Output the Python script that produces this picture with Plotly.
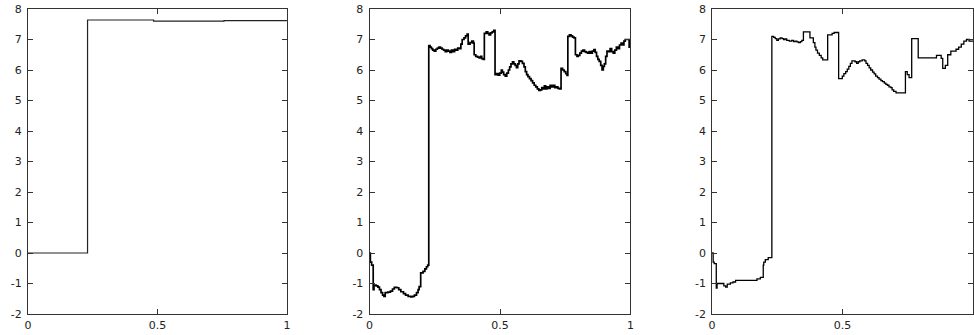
import plotly.graph_objects as go

# ---------------- data ----------------
x1 = [0.0, 0.23, 0.485, 0.757, 1.0]
y1 = [0.0, 7.64, 7.60, 7.62, 7.62]

x2 = [0.0, 0.003, 0.008, 0.014, 0.017, 0.025, 0.032, 0.038, 0.044, 0.05, 0.055, 0.06, 0.07, 0.08,
      0.088, 0.095, 0.105, 0.112, 0.12, 0.13, 0.138, 0.148, 0.158, 0.165, 0.172, 0.18, 0.186, 0.19,
      0.196, 0.205, 0.212, 0.218, 0.223,
      0.227, 0.232, 0.237, 0.242, 0.248, 0.254, 0.26, 0.266, 0.272, 0.278, 0.284, 0.29, 0.296, 0.302,
      0.308, 0.314, 0.32, 0.326, 0.332, 0.338, 0.345, 0.35, 0.355, 0.362, 0.368, 0.374, 0.378, 0.385,
      0.392, 0.398, 0.401, 0.407, 0.414, 0.42, 0.426, 0.43, 0.436, 0.44, 0.447, 0.453, 0.458, 0.464,
      0.47, 0.476, 0.481, 0.487, 0.493, 0.499, 0.505, 0.509, 0.514, 0.52, 0.526, 0.532, 0.537, 0.542,
      0.548, 0.553, 0.558, 0.563, 0.568, 0.573, 0.58, 0.586, 0.592, 0.597, 0.602, 0.607, 0.613, 0.619,
      0.625, 0.631, 0.637, 0.643, 0.649, 0.655, 0.66, 0.665, 0.67, 0.675, 0.68, 0.686, 0.692, 0.698,
      0.704, 0.71, 0.716, 0.722, 0.728, 0.734, 0.74, 0.746, 0.752, 0.757, 0.76, 0.766, 0.772, 0.778,
      0.784, 0.789, 0.795, 0.8, 0.806, 0.812, 0.818, 0.824, 0.83, 0.836, 0.842, 0.848, 0.854, 0.86,
      0.865, 0.87, 0.875, 0.88, 0.886, 0.891, 0.896, 0.9, 0.905, 0.91, 0.916, 0.922, 0.928, 0.934,
      0.94, 0.946, 0.952, 0.958, 0.964, 0.97, 0.975, 0.98, 0.995, 1.0]
y2 = [0.0, -0.3, -0.4, -1.2, -1.05, -1.08, -1.12, -1.2, -1.3, -1.38, -1.42, -1.3, -1.28, -1.25,
      -1.18, -1.13, -1.14, -1.2, -1.27, -1.33, -1.38, -1.42, -1.44, -1.42, -1.38, -1.3, -1.2, -1.1,
      -0.65, -0.6, -0.52, -0.45, -0.4,
      6.8, 6.75, 6.7, 6.65, 6.62, 6.68, 6.72, 6.75, 6.72, 6.68, 6.65, 6.6, 6.65, 6.62,
      6.58, 6.65, 6.6, 6.68, 6.65, 6.72, 6.7, 6.85, 7.0, 7.05, 7.12, 7.18, 6.85, 6.9,
      6.95, 6.88, 6.5, 6.45, 6.42, 6.4, 6.45, 6.37, 6.35, 7.2, 7.25, 7.2, 7.15, 7.22,
      7.25, 7.3, 5.85, 5.88, 5.83, 5.9, 6.0, 5.93, 5.85, 5.8, 5.9, 6.0, 6.1, 6.2,
      6.27, 6.2, 6.15, 6.08, 6.2, 6.3, 6.28, 6.22, 6.1, 5.95, 5.85, 5.78, 5.72, 5.65,
      5.58, 5.5, 5.45, 5.38, 5.33, 5.35, 5.42, 5.38, 5.48, 5.38, 5.45, 5.4, 5.5, 5.45,
      5.5, 5.42, 5.45, 5.4, 5.38, 6.05, 6.0, 5.95, 5.88, 5.82, 7.1, 7.15, 7.12, 7.08,
      7.05, 6.5, 6.45, 6.48, 6.55, 6.62, 6.65, 6.6, 6.58, 6.55, 6.6, 6.55, 6.62, 6.67,
      6.58, 6.45, 6.35, 6.28, 6.15, 6.0, 6.12, 6.2, 6.45, 6.62, 6.6, 6.7, 6.6, 6.55,
      6.65, 6.75, 6.7, 6.82, 6.88, 6.82, 6.95, 7.0, 6.75, 6.75]

x3 = [0.0, 0.004, 0.008, 0.016, 0.019, 0.045, 0.052, 0.058, 0.07, 0.08, 0.09, 0.172, 0.185,
      0.196, 0.198, 0.204, 0.215,
      0.229, 0.236, 0.242, 0.248, 0.254, 0.261, 0.268, 0.274, 0.28, 0.286, 0.296, 0.305, 0.312,
      0.318, 0.325, 0.331, 0.338, 0.344, 0.35, 0.375, 0.388, 0.394, 0.398, 0.404, 0.411, 0.418,
      0.424, 0.443, 0.455, 0.46, 0.468, 0.485, 0.499, 0.505, 0.512, 0.518, 0.524, 0.53, 0.536,
      0.548, 0.554, 0.56, 0.566, 0.575, 0.585, 0.59, 0.596, 0.602, 0.608, 0.615, 0.621, 0.627,
      0.634, 0.64, 0.647, 0.653, 0.66, 0.666, 0.672, 0.678, 0.685, 0.69, 0.696, 0.705, 0.741,
      0.748, 0.755, 0.765, 0.79, 0.86, 0.878, 0.884, 0.894, 0.903, 0.915, 0.935, 0.945, 0.955,
      0.965, 0.975, 0.985, 1.0]
y3 = [0.0, -0.3, -0.35, -1.15, -1.0, -1.08, -1.12, -1.02, -0.98, -0.95, -0.9, -0.85, -0.8,
      -0.4, -0.3, -0.22, -0.15,
      7.1, 7.07, 7.03, 6.97, 7.02, 7.05, 7.03, 7.0, 7.02, 6.97, 6.95, 6.97, 6.93,
      6.95, 6.92, 6.9, 6.93, 6.97, 7.25, 7.05, 6.9, 6.75, 6.65, 6.55, 6.48, 6.4,
      6.33, 7.15, 7.15, 7.2, 7.23, 5.72, 5.8, 5.88, 5.95, 6.03, 6.12, 6.22, 6.3,
      6.27, 6.22, 6.27, 6.3, 6.33, 6.3, 6.22, 6.15, 6.07, 6.0, 5.93, 5.87, 5.8,
      5.75, 5.7, 5.65, 5.62, 5.57, 5.53, 5.5, 5.45, 5.42, 5.35, 5.3, 5.25, 5.95,
      5.85, 5.75, 7.03, 6.4, 6.48, 6.38, 6.05, 6.15, 6.5, 6.62, 6.68, 6.75, 6.85,
      6.95, 7.0, 6.95, 6.95]

x_tick_vals = [0, 0.5, 1]
x_tick_text = [["0", "0.5", "1"], ["0", "0.5", "1"], ["0", "0.5", ""]]  # last "1" lies off-page in the reference
y_tick_vals = [-2, -1, 0, 1, 2, 3, 4, 5, 6, 7, 8]
y_tick_text = ["-2", "-1", "0", "1", "2", "3", "4", "5", "6", "7", "8"]

series = [(x1, y1, 1.2, "#222"), (x2, y2, 1.7, "#000"), (x3, y3, 1.3, "#000")]

# ---------------- figure ----------------
W, H = 980, 335
ML, MR, MT, MB = 28, 3, 8, 19
pw = W - ML - MR
panels_px = [(28, 288), (371, 633), (715, 977)]
domains = [[(a - ML) / pw, (b - ML) / pw] for a, b in panels_px]

fig = go.Figure()
font = dict(family="DejaVu Sans", size=11, color="#222")

for i, (xs, ys, lw, col) in enumerate(series):
    n = "" if i == 0 else str(i + 1)
    fig.add_trace(go.Scatter(x=xs, y=ys, mode="lines", line=dict(color=col, width=lw, shape="hv"),
                             xaxis="x" + n, yaxis="y" + n, showlegend=False, hoverinfo="skip"))
    common = dict(showgrid=False, zeroline=False, showline=True, mirror="ticks",
                  linecolor="#333", linewidth=1, ticks="inside", ticklen=5, tickcolor="#333",
                  tickwidth=1, tickfont=font)
    fig.layout["xaxis" + n] = dict(domain=domains[i], range=[0, 1], anchor="y" + n,
                                   tickvals=x_tick_vals, ticktext=x_tick_text[i],
                                   ticklabelstandoff=1, **common)
    fig.layout["yaxis" + n] = dict(domain=[0, 1], range=[-2, 8], anchor="x" + n,
                                   tickvals=y_tick_vals, ticktext=y_tick_text,
                                   ticklabelstandoff=3, **common)

fig.update_layout(width=W, height=H, margin=dict(l=ML, r=MR, t=MT, b=MB),
                  paper_bgcolor="white", plot_bgcolor="white")

fig.write_html("out.html", config={"displayModeBar": False},
               post_script="document.body.style.margin='0';document.body.style.overflow='hidden';")
